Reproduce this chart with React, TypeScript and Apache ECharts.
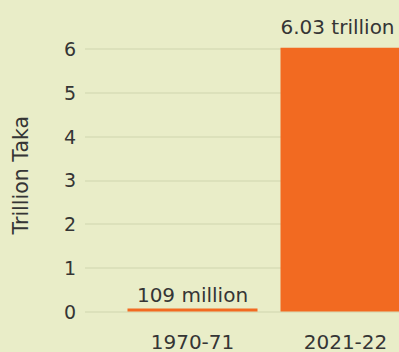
import React, { useEffect, useRef } from "react";
import * as echarts from "echarts";

const categories = ["1970-71", "2021-22"];
const values = [0.000109, 6.03];
const valueLabels = ["109 million", "6.03 trillion"];
const yTicks = [0, 1, 2, 3, 4, 5, 6];
const yAxisTitle = "Trillion Taka";

const FONT = "'DejaVu Sans', sans-serif";
const TEXT = "#353535";
const BG = "#e9edc8";

// per-bar label tweaks (the last label is nudged left so it fits inside the frame)
const labelOffsets = [[0, 0], [-8, 0]];
const labelDistances = [4, 11];

export default function App() {
  const ref = useRef<HTMLDivElement>(null);
  useEffect(() => {
    if (!ref.current) return;
    const chart = echarts.init(ref.current, undefined, { renderer: "svg" });
    chart.setOption({
      animation: false,
      backgroundColor: BG,
      grid: [
        { left: 116, width: 306, top: 49, bottom: 40.5, outerBoundsMode: "none", containLabel: false },
        { left: 85, right: 0, top: 49, bottom: 40.5, outerBoundsMode: "none", containLabel: false },
      ],
      xAxis: [
        {
          type: "category",
          gridIndex: 0,
          data: categories,
          axisLine: { show: false },
          axisTick: { show: false },
          axisLabel: { color: TEXT, fontFamily: FONT, fontSize: 20, margin: 20 },
        },
        { type: "value", gridIndex: 1, show: false, min: 0, max: 1 },
      ],
      yAxis: [
        {
          type: "value",
          gridIndex: 0,
          min: yTicks[0],
          max: yTicks[yTicks.length - 1],
          interval: 1,
          show: false,
          splitLine: { show: false },
        },
        {
          type: "value",
          gridIndex: 1,
          min: yTicks[0],
          max: yTicks[yTicks.length - 1],
          interval: 1,
          axisLine: { show: false },
          axisTick: { show: false },
          axisLabel: { color: TEXT, fontFamily: FONT, fontSize: 19, margin: 9 },
          splitLine: { lineStyle: { color: "#dce1bb", width: 2 } },
          name: yAxisTitle,
          nameLocation: "middle",
          nameGap: 54,
          nameTextStyle: { color: TEXT, fontFamily: FONT, fontSize: 20.5, padding: [0, 0, 0, 10] },
        },
      ],
      series: [
        {
          type: "bar",
          xAxisIndex: 0,
          yAxisIndex: 0,
          data: values.map((v, i) => ({
            value: v,
            label: { offset: labelOffsets[i], distance: labelDistances[i] },
          })),
          barWidth: 130,
          barMinHeight: 3,
          clip: false,
          itemStyle: { color: "#f26a21" },
          label: {
            show: true,
            position: "top",
            color: TEXT,
            fontFamily: FONT,
            fontSize: 20,
            formatter: (p: any) => valueLabels[p.dataIndex],
          },
        },
      ],
    });
    return () => chart.dispose();
  }, []);
  return <div ref={ref} style={{ width: 399, height: 352, position: "absolute", left: 0, top: 0 }} />;
}
